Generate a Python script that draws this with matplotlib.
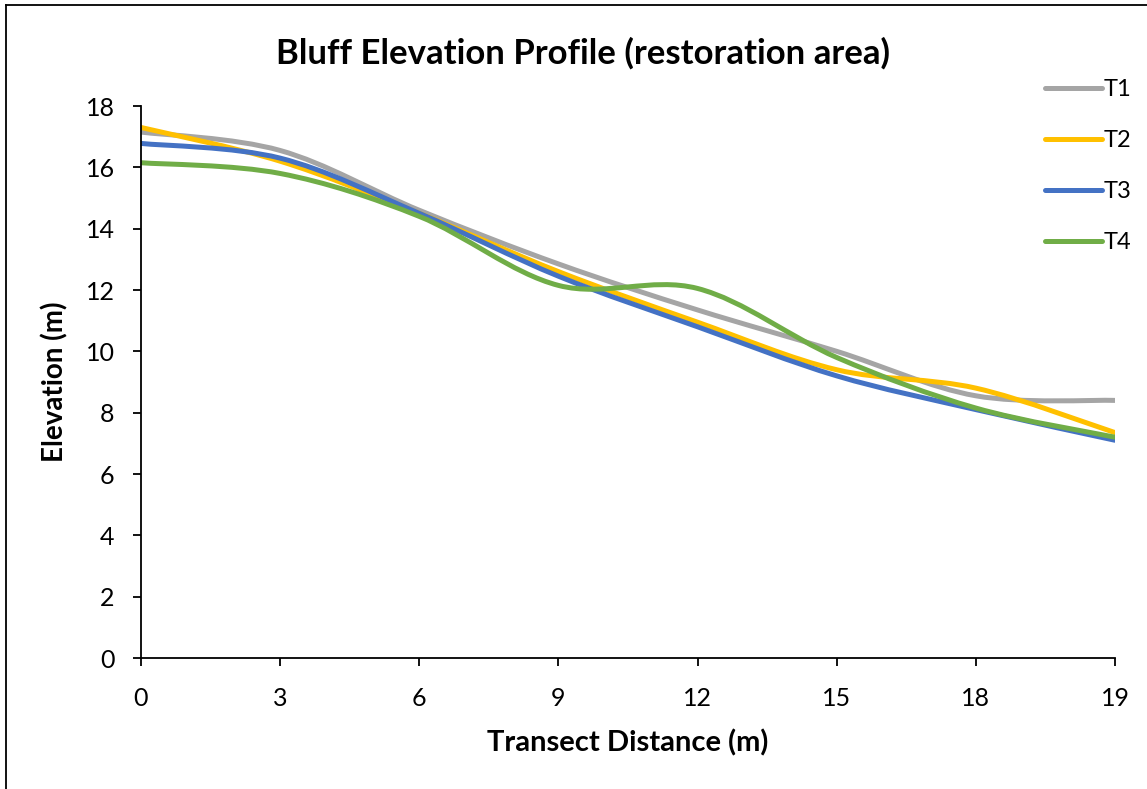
import matplotlib
matplotlib.use("Agg")
import matplotlib.pyplot as plt
from matplotlib.path import Path
from matplotlib.patches import PathPatch
from matplotlib.lines import Line2D

plt.rcParams['font.family'] = ['Lato', 'DejaVu Sans']

categories = ["0", "3", "6", "9", "12", "15", "18", "19"]
series_names = ["T1", "T2", "T3", "T4"]
t1 = [17.15, 16.55, 14.6, 12.85, 11.35, 10.0, 8.55, 8.4]
t2 = [17.3, 16.2, 14.5, 12.6, 10.95, 9.4, 8.8, 7.35]
t3 = [16.78, 16.3, 14.5, 12.45, 10.8, 9.2, 8.1, 7.1]
t4 = [16.15, 15.8, 14.4, 12.15, 12.05, 9.8, 8.15, 7.2]
colors = ["#A5A5A5", "#FFC000", "#4472C4", "#70AD47"]
yticks = [0, 2, 4, 6, 8, 10, 12, 14, 16, 18]

W, H = 1147, 789
fig = plt.figure(figsize=(W / 100, H / 100), dpi=100)
ax = fig.add_axes([141 / W, 1 - 658 / H, (1115 - 141) / W, (658 - 106) / H])


def smooth_path(xs, ys):
    # Excel-style smoothed line: cubic Bezier segments through the data points
    n = len(xs)
    verts = [(xs[0], ys[0])]
    codes = [Path.MOVETO]
    for i in range(n - 1):
        xp, yp = (xs[i - 1], ys[i - 1]) if i > 0 else (xs[i], ys[i])
        xn2, yn2 = (xs[i + 2], ys[i + 2]) if i + 2 < n else (xs[i + 1], ys[i + 1])
        c1 = (xs[i] + (xs[i + 1] - xp) / 6, ys[i] + (ys[i + 1] - yp) / 6)
        c2 = (xs[i + 1] - (xn2 - xs[i]) / 6, ys[i + 1] - (yn2 - ys[i]) / 6)
        verts += [c1, c2, (xs[i + 1], ys[i + 1])]
        codes += [Path.CURVE4] * 3
    return Path(verts, codes)


xpos = list(range(len(categories)))
handles = []
for name, vals, c in zip(series_names, [t1, t2, t3, t4], colors):
    patch = PathPatch(smooth_path(xpos, vals), facecolor='none', edgecolor=c,
                      lw=3.6, capstyle='round', joinstyle='round')
    ax.add_patch(patch)
    handles.append(Line2D([], [], color=c, lw=3.6, solid_capstyle='round'))

ax.set_xlim(0, len(categories) - 1)
ax.set_ylim(0, 18)
ax.set_xticks(xpos)
ax.set_xticklabels(categories)
ax.set_yticks(yticks)
for s in ['top', 'right']:
    ax.spines[s].set_visible(False)
for s in ['left', 'bottom']:
    ax.spines[s].set_linewidth(1.3)
    ax.spines[s].set_color('black')
ax.tick_params(axis='both', direction='out', length=6, width=1.3, labelsize=18,
               colors='black')
ax.tick_params(axis='x', pad=15)
ax.tick_params(axis='y', pad=13)

ax.set_xlabel("Transect Distance (m)", fontsize=21, fontweight='bold', labelpad=14)
ax.set_ylabel("Elevation (m)", fontsize=20, fontweight='bold', labelpad=12)
fig.text(583 / W, 1 - 53 / H, "Bluff Elevation Profile (restoration area)",
         fontsize=25, fontweight='bold', ha='center', va='center')

fig.legend(handles, series_names, loc='upper left',
           bbox_to_anchor=(1045 / W, 1 - 79 / H), frameon=False, fontsize=17,
           handlelength=2.4, handletextpad=0.1, labelspacing=1.27,
           borderaxespad=0, borderpad=0)

# outer chart frame (partially visible)
fig.add_artist(Line2D([6 / W, 6 / W], [0, 1 - 5 / H], transform=fig.transFigure,
                      color='black', lw=1.3))
fig.add_artist(Line2D([6 / W, 1], [1 - 5 / H, 1 - 5 / H], transform=fig.transFigure,
                      color='black', lw=1.3))

fig.savefig("out.png", dpi=100)
